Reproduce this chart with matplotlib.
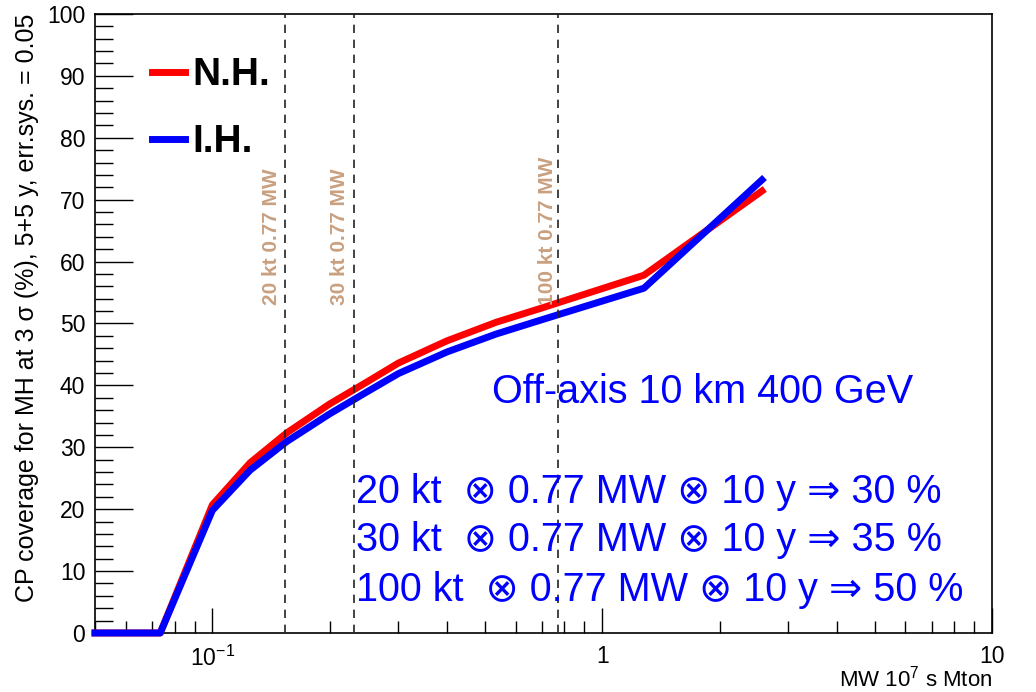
import matplotlib
matplotlib.use("Agg")
import matplotlib.pyplot as plt
from matplotlib.ticker import FixedLocator, LogLocator, MultipleLocator, NullFormatter

plt.rcParams['font.family'] = ['Liberation Sans', 'DejaVu Sans']
plt.rcParams['mathtext.fontset'] = 'custom'
plt.rcParams['mathtext.rm'] = 'Liberation Sans'
plt.rcParams['mathtext.it'] = 'Liberation Sans:italic'

# exposure (MW 10^7 s Mton) and CP coverage (%)
exposure = [0.05, 0.0735, 0.1, 0.125, 0.155, 0.2, 0.25, 0.3, 0.4, 0.535, 0.7, 1.28, 2.57]
cov_nh = [0, 0, 20.7, 27.5, 32.3, 37.0, 40.6, 43.6, 47.2, 50.2, 52.5, 57.8, 71.4]
cov_ih = [0, 0, 19.8, 26.3, 30.9, 35.4, 39.0, 41.9, 45.4, 48.3, 50.6, 55.7, 73.2]

# reference configurations: 20, 30, 100 kt at 0.77 MW for 10 y
ref_exposure = [0.154, 0.231, 0.77]
ref_labels = ['20 kt 0.77 MW', '30 kt 0.77 MW', '100 kt 0.77 MW']
ref_text_x = [0.1416, 0.212, 0.723]

summary = ['20 kt  \u2297 0.77 MW \u2297 10 y \u21d2 30 %',
           '30 kt  \u2297 0.77 MW \u2297 10 y \u21d2 35 %',
           '100 kt  \u2297 0.77 MW \u2297 10 y \u21d2 50 %']
summary_y = [22.8, 15.0, 6.9]

fig = plt.figure(figsize=(10.36, 6.92), dpi=100)
ax = fig.add_axes([0.0917, 0.0853, 0.8658, 0.8945])

ax.plot(exposure, cov_nh, color='#ff0000', lw=5, label='N.H.', clip_on=False, zorder=3)
ax.plot(exposure, cov_ih, color='#0000ff', lw=5, label='I.H.', clip_on=False, zorder=4)

for xv in ref_exposure:
    ax.axvline(xv, color='#222222', lw=1.2, ls=(0, (5, 4)), zorder=5)

for xv, lab in zip(ref_text_x, ref_labels):
    ax.text(xv, 53.0, lab, rotation=90, ha='center', va='bottom', fontsize=15,
            fontweight='bold', color='#c9a080', zorder=6)

ax.text(0.522, 38.9, 'Off-axis 10 km 400 GeV', color='#0000ff', fontsize=28.5,
        va='center', ha='left', zorder=6)
for txt, yv in zip(summary, summary_y):
    ax.text(0.234, yv, txt, color='#0000ff', fontsize=28.5, va='center', ha='left',
            zorder=6)

ax.set_xscale('log')
ax.set_xlim(0.05, 10)
ax.set_ylim(0, 100)

ax.xaxis.set_major_locator(FixedLocator([0.1, 1, 10]))
ax.set_xticklabels(['$10^{-1}$', '1', '10'])
ax.xaxis.set_minor_locator(LogLocator(base=10, subs=range(2, 10)))
ax.xaxis.set_minor_formatter(NullFormatter())
ax.yaxis.set_major_locator(MultipleLocator(10))
ax.yaxis.set_minor_locator(MultipleLocator(2))

ax.tick_params(which='both', direction='in', top=False, right=False, labelsize=16.5,
               width=1, color='black')
ax.tick_params(axis='y', which='major', length=27, pad=7)
ax.tick_params(axis='y', which='minor', length=13)
ax.tick_params(axis='x', which='major', length=18, pad=9)
ax.tick_params(axis='x', which='minor', length=9)
for sp in ax.spines.values():
    sp.set_linewidth(1.2)

ax.set_xlabel('MW 10$^7$ s Mton', fontsize=16)
ax.xaxis.set_label_coords(1.0, -0.052)
ax.xaxis.label.set_horizontalalignment('right')
ax.set_ylabel('CP coverage for MH at 3 \u03c3 (%), 5+5 y, err.sys. = 0.05', loc='top',
              fontsize=18, labelpad=6)

leg = ax.legend(loc='upper left', bbox_to_anchor=(0.063, 0.93), frameon=False,
                prop={'weight': 'bold', 'size': 28}, handlelength=0.85,
                handletextpad=0.2, labelspacing=0.8, borderpad=0, borderaxespad=0)

fig.savefig('out.png', dpi=100)
